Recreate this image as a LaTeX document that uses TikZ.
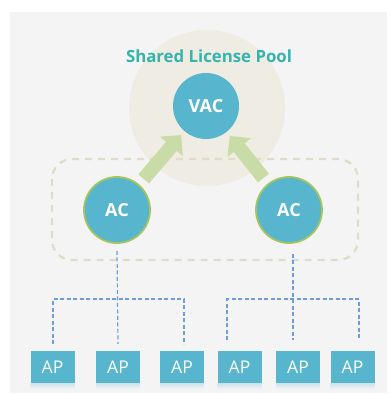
\documentclass[tikz,border=0pt]{standalone}
\usepackage{fontspec}
\setmainfont{Open Sans}
\usetikzlibrary{calc,positioning,arrows.meta}

\definecolor{panel}{HTML}{F4F4F4}
\definecolor{poolbg}{HTML}{EFECE3}
\definecolor{nodeblue}{HTML}{57B5CD}
\definecolor{rimgreen}{HTML}{A4C45F}
\definecolor{arrowgreen}{HTML}{C9DBA7}
\definecolor{framebeige}{HTML}{E0DCC9}
\definecolor{busblue}{HTML}{6F9CDC}
\definecolor{teal}{HTML}{35B4AE}

\pgfdeclarelayer{back}
\pgfdeclarelayer{mid}
\pgfsetlayers{back,mid,main}

\tikzset{
  ctrl/.style={circle, fill=nodeblue, minimum size=66pt, inner sep=0pt,
    text=white, font=\fontsize{18}{21}\selectfont\bfseries},
  acnode/.style={ctrl, draw=rimgreen, line width=1.8pt},
  apbox/.style={rectangle, fill=nodeblue, minimum width=44pt, minimum height=32pt,
    inner sep=0pt, text=white, font=\fontsize{17.5}{20}\selectfont},
  bus/.style={busblue, line width=1.2pt, dash pattern=on 4pt off 2.5pt},
  licarrow/.style={arrowgreen, line width=14pt,
    -{Triangle[length=15pt,width=29pt]}, shorten <=7pt, shorten >=5pt},
}

\begin{document}
\begin{tikzpicture}[x=1pt,y=-1pt]
            \useasboundingbox (0,0) rectangle (390,394);

            \node[ctrl] (vac) at (206,106) {VAC};
            \node[acnode] (acl) at (117,210) {AC};
            \node[acnode] (acr) at (289,210) {AC};

            % panel, license pool and group frame
            \begin{pgfonlayer}{back}
            \fill[white] (0,0) rectangle (390,394);
            \fill[panel] (10,12) rectangle (387,393);
            \fill[poolbg] (207,108) circle (78);
            \draw[framebeige, line width=2.2pt, dash pattern=on 7pt off 6pt, rounded corners=20pt]
                (52,159) rectangle (358,260);
            \end{pgfonlayer}
            \node[text=teal, font=\fontsize{16.8}{20}\selectfont\bfseries] (pool) at (209,56) {Shared License Pool};

            \begin{pgfonlayer}{mid}
            \draw[licarrow] (acl) -- (vac);
            \draw[licarrow] (acr) -- (vac);
            \end{pgfonlayer}

            % access points
            \node[apbox] (ap1) at (52.5,367) {AP};
            \node[apbox] (ap2) at (118,367) {AP};
            \node[apbox] (ap3) at (182,367) {AP};
            \node[apbox] (ap4) at (239.5,367) {AP};
            \node[apbox] (ap5) at (298,367) {AP};
            \node[apbox] (ap6) at (352.5,367) {AP};
            \foreach \i in {1,...,6}
              \shade[top color=nodeblue!25!panel, bottom color=panel]
                (ap\i.south west) rectangle ([yshift=-6pt]ap\i.south east);

            % left bus
            \coordinate (l1) at (53,344);
            \coordinate (l2) at (118,344);
            \coordinate (l3) at (184,344);
            \draw[bus] ([yshift=-7pt]acl.south) -- (l2);
            \draw[bus] (l1) |- (l2 |- 0,299) -| (l3);

            % right bus
            \coordinate (r1) at (227,340);
            \coordinate (r2) at (293,340);
            \coordinate (r3) at (359,340);
            \draw[bus] (r2 |- acr.south) ++(0,10) -- (r2);
            \draw[bus] (r1) |- (r2 |- 0,299) -| (r3);
\end{tikzpicture}
\end{document}
